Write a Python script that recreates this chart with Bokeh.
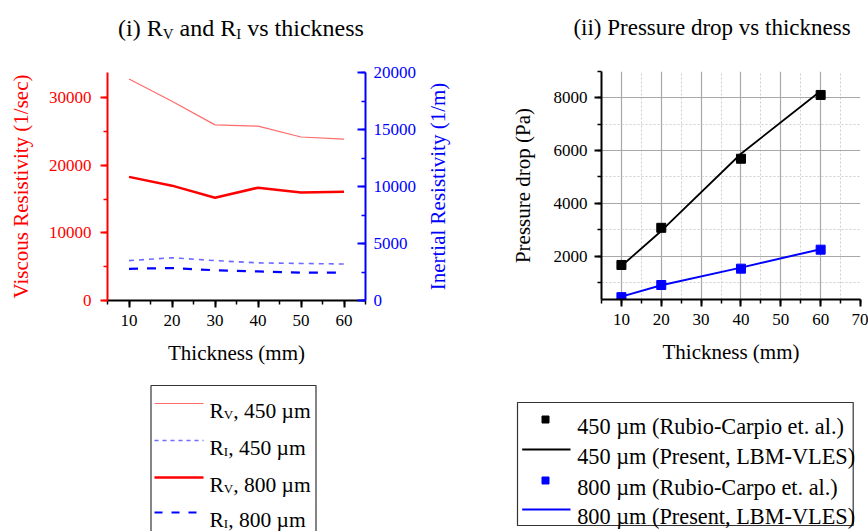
import math
from bokeh.plotting import figure
from bokeh.models import Range1d, LinearAxis, SingleIntervalTicker
from bokeh.layouts import row, column
from bokeh.embed import file_html
from bokeh.resources import INLINE
from bokeh.core.properties import value

# ---------------- data ----------------
thickness_res = [10, 20, 30, 40, 50, 60]
rv_450 = [32800, 29500, 26000, 25800, 24200, 23900]
ri_450 = [3500, 3750, 3500, 3300, 3250, 3200]
rv_800 = [18300, 17000, 15200, 16700, 16000, 16100]
ri_800 = [2780, 2850, 2650, 2550, 2450, 2450]

thickness_dp = [10, 20, 40, 60]
dp_exp_450 = [1660, 3070, 5690, 8110]
dp_lbm_450 = [1620, 2950, 5880, 8260]
dp_exp_800 = [440, 900, 1520, 2240]
dp_lbm_800 = [460, 890, 1560, 2260]

title_left = [("(i) R", "main"), ("V", "sub"), (" and R", "main"), ("I", "sub"), (" vs thickness", "main")]
title_right = "(ii) Pressure drop vs thickness"
right_axis_title = "Inertial Resistivity (1/m)"
legend_left = [("V", ", 450 µm"), ("I", ", 450 µm"), ("V", ", 800 µm"), ("I", ", 800 µm")]
legend_right = ["450 µm (Rubio-Carpio et. al.)", "450 µm (Present, LBM-VLES)",
                "800 µm (Rubio-Carpo et. al.)", "800 µm (Present, LBM-VLES)"]

FONT = "Liberation Serif"
RED_LIGHT = "#ff6b6b"
BLUE_LIGHT = "#6b6bff"

# Times / Liberation Serif advance widths (per 1000 em)
TW = {' ': 250, '(': 333, ')': 333, ',': 250, '.': 250, '-': 333, '/': 278,
      'a': 444, 'c': 444, 'd': 500, 'e': 444, 'h': 500, 'i': 278, 'k': 500,
      'm': 778, 'n': 500, 'o': 500, 's': 389, 't': 278, 'v': 500, 'R': 667,
      'V': 722, 'I': 333, 'µ': 500}


def tw(txt, size):
    return sum(TW.get(c, 500) for c in txt) / 1000.0 * size


def blank_fig(w, h):
    f = figure(width=w, height=h, x_range=Range1d(0, w), y_range=Range1d(h, 0),
               output_backend="svg", toolbar_location=None, min_border=0,
               x_axis_type=None, y_axis_type=None, outline_line_color=None,
               frame_align=False)
    f.grid.visible = False
    return f


def put_text(f, x, y, txt, size, color="black", align="left", baseline="alphabetic", angle=0):
    # SVG drops leading blanks, so advance past them explicitly
    stripped = txt.lstrip(" ")
    x += tw(txt[:len(txt) - len(stripped)], size)
    f.text(x=[x], y=[y], text=[stripped], text_font=value(FONT),
           text_font_size=value(f"{size}px"), text_color=color,
           text_align=align, text_baseline=baseline, angle=angle)


def style_axis(ax, color, tick_size="17px", label_size="21px"):
    ax.axis_line_color = color
    ax.axis_line_width = 2
    ax.major_tick_line_color = color
    ax.minor_tick_line_color = color
    ax.major_tick_line_width = 2
    ax.minor_tick_line_width = 1.5
    ax.major_label_text_color = color
    ax.axis_label_text_color = color
    ax.major_label_text_font = FONT
    ax.major_label_text_font_size = tick_size
    ax.axis_label_text_font = FONT
    ax.axis_label_text_font_size = label_size
    ax.axis_label_text_font_style = "normal"


LW, RW = 480, 388
TH, PH, LH = 50, 320, 161
PLW = 422            # left plot canvas; the rest of the column holds the right-axis title

# ---------------- left panel ----------------
tL = blank_fig(LW, TH)
MAIN, SUB = 24, 15
total = sum(tw(t, MAIN if k == "main" else SUB) for t, k in title_left)
x = 240.5 - total / 2
for t, k in title_left:
    size = MAIN if k == "main" else SUB
    put_text(tL, x, 27 + (0 if k == "main" else 6), t, size)
    x += tw(t, size)

pL = figure(width=PLW, height=PH, x_range=Range1d(5, 65), y_range=Range1d(0, 33750),
            output_backend="svg", toolbar_location=None,
            min_border_left=107, min_border_right=PLW - 365, min_border_top=22, min_border_bottom=70,
            outline_line_color=None, frame_align=False)
pL.grid.visible = False
pL.extra_y_ranges = {"ri": Range1d(0, 20000)}

xa = pL.xaxis[0]
xa.ticker = SingleIntervalTicker(interval=10, num_minor_ticks=2)
style_axis(xa, "black")
xa.axis_label = "Thickness (mm)"
xa.major_tick_out, xa.major_tick_in = 7, 0
xa.minor_tick_out, xa.minor_tick_in = 4, 0
xa.major_label_standoff = 7
xa.axis_label_standoff = 12

ya = pL.yaxis[0]
ya.ticker = SingleIntervalTicker(interval=10000, num_minor_ticks=2)
style_axis(ya, "red")
ya.axis_label = "Viscous Resistivity (1/sec)"
ya.major_tick_out, ya.major_tick_in = 7, 0
ya.minor_tick_out, ya.minor_tick_in = 4, 0
ya.major_label_standoff = 9
ya.axis_label_standoff = 13

ra = LinearAxis(y_range_name="ri", ticker=SingleIntervalTicker(interval=5000, num_minor_ticks=2))
style_axis(ra, "blue")
ra.major_tick_out, ra.major_tick_in = 0, 8
ra.minor_tick_out, ra.minor_tick_in = 0, 4
ra.major_label_standoff = 8
pL.add_layout(ra, "right")

pL.line(thickness_res, rv_450, line_color=RED_LIGHT, line_width=1.2)
pL.line(thickness_res, ri_450, line_color=BLUE_LIGHT, line_width=1.6, line_dash="5 5", y_range_name="ri")
pL.line(thickness_res, rv_800, line_color="red", line_width=2.5)
pL.line(thickness_res, ri_800, line_color="blue", line_width=2.2, line_dash="9 9", y_range_name="ri")

# right-axis title, reading bottom-to-top as in the reference
aL = blank_fig(LW - PLW, PH)
put_text(aL, 437 - PLW, 22 + 114, right_axis_title, 21, color="blue",
         align="center", baseline="middle", angle=math.pi / 2)

lL = blank_fig(LW, LH)
lL.quad(left=[150.5], right=[315.5], top=[15], bottom=[175], fill_color=None,
        line_color="#333333", line_width=1.2)
styles_left = [dict(line_color=RED_LIGHT, line_width=1.2),
               dict(line_color=BLUE_LIGHT, line_width=1.6, line_dash="4 4"),
               dict(line_color="red", line_width=2.5),
               dict(line_color="blue", line_width=2.2, line_dash="8 9")]
rows_left = [33, 70, 107, 142]
LM, LS = 21.5, 13
for (sub, rest), st, ry in zip(legend_left, styles_left, rows_left):
    lL.line(x=[154, 203], y=[ry, ry], **st)
    x0 = 209
    put_text(lL, x0, ry + 7, "R", LM)
    x0 += tw("R", LM)
    put_text(lL, x0, ry + 11, sub, LS)
    x0 += tw(sub, LS)
    put_text(lL, x0, ry + 7, rest, LM)

# ---------------- right panel ----------------
tR = blank_fig(RW, TH)
put_text(tR, 231.5, 27, title_right, 23, align="center")

pR = figure(width=RW, height=PH, x_range=Range1d(5, 70), y_range=Range1d(350, 9000),
            output_backend="svg", toolbar_location=None,
            min_border_left=121, min_border_right=8, min_border_top=21, min_border_bottom=71,
            outline_line_color=None, frame_align=False)
xb = pR.xaxis[0]
xb.ticker = SingleIntervalTicker(interval=10, num_minor_ticks=2)
style_axis(xb, "black")
xb.axis_label = "Thickness (mm)"
xb.major_tick_out, xb.major_tick_in = 7, 0
xb.minor_tick_out, xb.minor_tick_in = 4, 0
xb.major_label_standoff = 7
xb.axis_label_standoff = 12
yb = pR.yaxis[0]
yb.ticker = SingleIntervalTicker(interval=2000, num_minor_ticks=2)
style_axis(yb, "black")
yb.axis_label = "Pressure drop (Pa)"
yb.major_tick_out, yb.major_tick_in = 7, 0
yb.minor_tick_out, yb.minor_tick_in = 4, 0
yb.major_label_standoff = 7
yb.axis_label_standoff = 16

pR.xgrid.ticker = xb.ticker
pR.ygrid.ticker = yb.ticker
for g in pR.grid:
    g.grid_line_color = "#a8a8a8"
    g.grid_line_width = 1.2
    g.minor_grid_line_color = "#cfcfcf"
    g.minor_grid_line_dash = "2 2"
    g.minor_grid_line_width = 1

pR.line(thickness_dp, dp_lbm_450, line_color="black", line_width=1.8)
pR.scatter(thickness_dp, dp_exp_450, marker="square", size=9, color="black")
pR.line(thickness_dp, dp_lbm_800, line_color="blue", line_width=2)
pR.scatter(thickness_dp, dp_exp_800, marker="square", size=9, color="blue")

lR = blank_fig(RW, LH)
lR.quad(left=[37], right=[372.7], top=[32], bottom=[155], fill_color=None,
        line_color="#333333", line_width=1.2)
rows_right = [49, 79, 110, 139]
kinds = [("marker", "black"), ("line", "black"), ("marker", "blue"), ("line", "blue")]
for txt, (kind, col), ry in zip(legend_right, kinds, rows_right):
    if kind == "marker":
        lR.scatter(x=[65], y=[ry], marker="square", size=7, color=col)
    else:
        lR.line(x=[41.7, 90], y=[ry, ry], line_color=col, line_width=1.8)
    put_text(lR, 96.7, ry + 7, txt, 22.3)

layout = row(column(tL, row(pL, aL), lL), column(tR, pR, lR))
open("out.html", "w").write(file_html(layout, INLINE))
